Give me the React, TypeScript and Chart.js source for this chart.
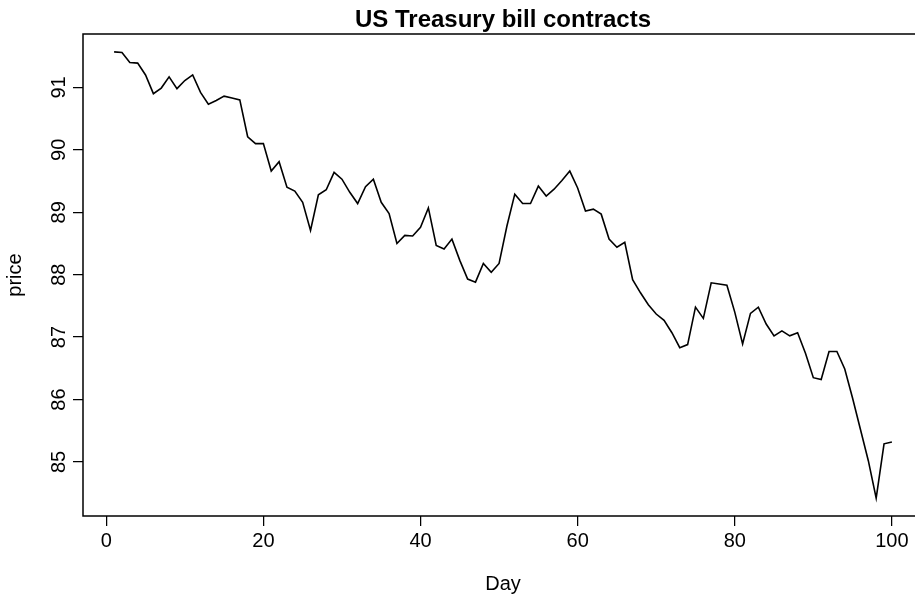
import React, { useEffect, useRef } from "react";
import { Chart, registerables } from "chart.js";

Chart.register(...registerables);

const days = [
  1, 2, 3, 4, 5, 6, 7, 8, 9, 10, 11, 12, 13, 14, 15, 16, 17, 18, 19, 20,
  21, 22, 23, 24, 25, 26, 27, 28, 29, 30, 31, 32, 33, 34, 35, 36, 37, 38, 39, 40,
  41, 42, 43, 44, 45, 46, 47, 48, 49, 50, 51, 52, 53, 54, 55, 56, 57, 58, 59, 60,
  61, 62, 63, 64, 65, 66, 67, 68, 69, 70, 71, 72, 73, 74, 75, 76, 77, 78, 79, 80,
  81, 82, 83, 84, 85, 86, 87, 88, 89, 90, 91, 92, 93, 94, 95, 96, 97, 98, 99, 100,
];

const prices = [
  91.57, 91.56, 91.4, 91.39, 91.2, 90.9, 90.99, 91.17, 90.98, 91.11,
  91.2, 90.92, 90.73, 90.79, 90.86, 90.83, 90.8, 90.21, 90.1, 90.1,
  89.66, 89.81, 89.4, 89.34, 89.16, 88.71, 89.28, 89.36, 89.64, 89.53,
  89.32, 89.14, 89.41, 89.53, 89.16, 88.98, 88.5, 88.63, 88.62, 88.76,
  89.07, 88.47, 88.41, 88.57, 88.23, 87.93, 87.88, 88.18, 88.04, 88.18,
  88.78, 89.29, 89.14, 89.14, 89.42, 89.26, 89.37, 89.51, 89.66, 89.39,
  89.02, 89.05, 88.97, 88.57, 88.44, 88.52, 87.92, 87.71, 87.52, 87.37,
  87.27, 87.07, 86.83, 86.88, 87.48, 87.3, 87.87, 87.85, 87.83, 87.4,
  86.89, 87.38, 87.48, 87.21, 87.02, 87.1, 87.02, 87.07, 86.74, 86.35,
  86.32, 86.77, 86.77, 86.49, 86.02, 85.52, 85.02, 84.42, 85.29, 85.32,
];

const xTicks = [0, 20, 40, 60, 80, 100];
const yTicks = [85, 86, 87, 88, 89, 90, 91];

const titleText = "US Treasury bill contracts";
const xTitle = "Day";
const yTitle = "price";

const FONT = "'Liberation Sans', Arial, Helvetica, sans-serif";

const boxPlugin = {
  id: "rbox",
  afterDatasetsDraw(chart: any) {
    const { ctx, chartArea } = chart;
    ctx.save();
    ctx.strokeStyle = "#000";
    ctx.lineWidth = 1.5;
    ctx.strokeRect(
      chartArea.left,
      chartArea.top,
      chartArea.right - chartArea.left,
      chartArea.bottom - chartArea.top
    );
    ctx.restore();
  },
};

export default function App() {
  const ref = useRef<HTMLCanvasElement | null>(null);

  useEffect(() => {
    if (!ref.current) return;
    const xMin = 1 - 0.04 * 99;
    const xMax = 100 + 0.04 * 99;
    const pMin = Math.min(...prices);
    const pMax = Math.max(...prices);
    const pad = 0.04 * (pMax - pMin);

    const chart = new Chart(ref.current, {
      type: "line",
      data: {
        datasets: [
          {
            data: days.map((d, i) => ({ x: d, y: prices[i] })),
            borderColor: "#000",
            borderWidth: 1.6,
            pointRadius: 0,
            tension: 0,
            fill: false,
          },
        ],
      },
      options: {
        responsive: false,
        animation: false,
        layout: { padding: { left: 0, right: 7, top: 0, bottom: 0 } },
        plugins: {
          legend: { display: false },
          tooltip: { enabled: false },
          title: {
            display: true,
            text: titleText,
            fullSize: false,
            color: "#000",
            font: { family: FONT, size: 24, weight: "bold", lineHeight: "28px" },
            padding: { top: 6, bottom: 0 },
          },
        },
        scales: {
          x: {
            type: "linear",
            min: xMin,
            max: xMax,
            afterFit: (s: any) => {
              s.height = 82;
            },
            afterBuildTicks: (s: any) => {
              s.ticks = xTicks.map((v) => ({ value: v }));
            },
            border: { display: false },
            grid: {
              display: true,
              drawOnChartArea: false,
              drawTicks: true,
              tickLength: 10,
              color: "#000",
              lineWidth: 1.25,
            },
            ticks: {
              color: "#000",
              font: { family: FONT, size: 20, lineHeight: 1.2 },
              padding: 3,
              maxRotation: 0,
              minRotation: 0,
              autoSkip: false,
            },
            title: {
              display: true,
              text: xTitle,
              color: "#000",
              font: { family: FONT, size: 20, lineHeight: 1.2 },
              padding: { top: 0, bottom: 2 },
            },
          },
          y: {
            type: "linear",
            min: pMin - pad,
            max: pMax + pad,
            afterFit: (s: any) => {
              s.width = 83;
            },
            afterBuildTicks: (s: any) => {
              s.ticks = yTicks.map((v) => ({ value: v }));
            },
            border: { display: false },
            grid: {
              display: true,
              drawOnChartArea: false,
              drawTicks: true,
              tickLength: 10,
              color: "#000",
              lineWidth: 1.25,
            },
            ticks: {
              color: "#000",
              font: { family: FONT, size: 20, lineHeight: 1.2 },
              padding: 2,
              minRotation: 90,
              maxRotation: 90,
              crossAlign: "center",
              autoSkip: false,
            },
            title: {
              display: true,
              text: yTitle,
              color: "#000",
              font: { family: FONT, size: 20, lineHeight: 1.2 },
              padding: { top: 3, bottom: 0 },
            },
          },
        },
      },
      plugins: [boxPlugin],
    });
    return () => chart.destroy();
  }, []);

  return (
    <div
      style={{
        position: "absolute",
        left: 0,
        top: 0,
        width: 915,
        height: 598,
        overflow: "hidden",
        background: "#fff",
      }}
    >
      <canvas ref={ref} width={930} height={598} style={{ display: "block" }} />
    </div>
  );
}
